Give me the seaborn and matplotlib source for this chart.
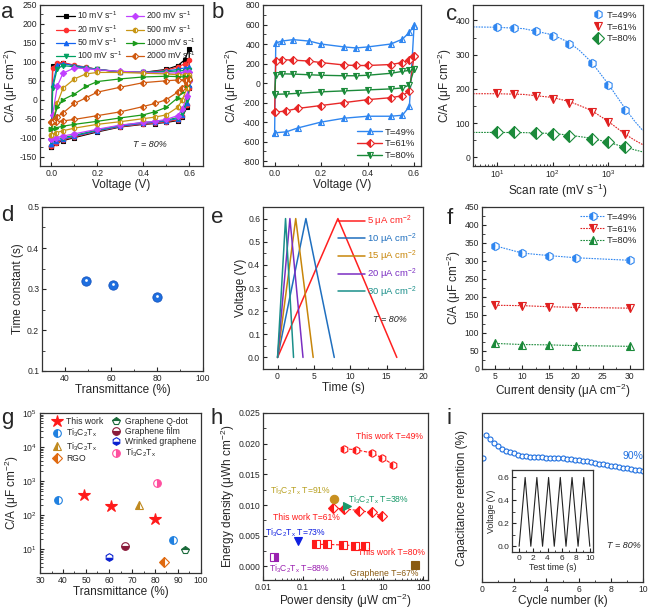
import matplotlib
matplotlib.use("Agg")
import matplotlib.pyplot as plt
import numpy as np
import pandas as pd
import seaborn as sns
from matplotlib.ticker import AutoMinorLocator, LogLocator, NullFormatter

# ---------------- data ----------------
# (a) CV at T=80%, different scan rates: forward then reverse branch
cv_v = [0.0, 0.005, 0.025, 0.05, 0.1, 0.15, 0.2, 0.3, 0.4, 0.5, 0.55, 0.58, 0.6,
        0.6, 0.59, 0.57, 0.55, 0.5, 0.45, 0.4, 0.3, 0.2, 0.1, 0.05, 0.02, 0.0]
scan_labels = ["10", "20", "50", "100", "200", "500", "1000", "2000"]
cv_10 = [-125, 90, 95, 97, 90, 85, 80, 73, 72, 80, 90, 105, 135,
         30, -20, -45, -55, -60, -63, -65, -72, -85, -100, -108, -115, -125]
cv_20 = [-122, 85, 96, 98, 91, 86, 80, 73, 72, 78, 86, 95, 105,
         30, -15, -42, -53, -58, -62, -64, -71, -83, -98, -106, -113, -122]
cv_50 = [-118, 40, 92, 95, 90, 85, 80, 73, 72, 76, 80, 84, 86,
         40, -10, -40, -50, -56, -60, -62, -70, -82, -96, -104, -110, -118]
cv_100 = [-110, 30, 82, 90, 87, 83, 80, 74, 72, 74, 76, 77, 78,
          45, 0, -35, -47, -54, -58, -60, -68, -80, -94, -100, -105, -110]
cv_200 = [-105, -40, 35, 70, 84, 82, 79, 75, 72, 70, 71, 72, 72,
          50, 10, -25, -42, -52, -57, -60, -67, -78, -90, -96, -100, -105]
cv_500 = [-92, -60, -10, 30, 55, 68, 72, 72, 70, 68, 66, 65, 65,
          60, 30, 0, -20, -40, -46, -50, -58, -65, -75, -82, -87, -92]
cv_1000 = [-78, -60, -20, 0, 15, 35, 48, 55, 60, 62, 61, 60, 60,
           58, 40, 20, 5, -20, -32, -40, -48, -57, -65, -70, -74, -78]
cv_2000 = [-60, -55, -45, -35, -10, 5, 20, 33, 45, 50, 52, 53, 53,
           55, 45, 30, 20, 0, -10, -18, -32, -42, -52, -56, -58, -60]

# (b) CV at 10 mV/s for three transmittances
cvb_v = [0.0, 0.005, 0.03, 0.08, 0.15, 0.2, 0.3, 0.35, 0.4, 0.5, 0.55, 0.58, 0.6,
         0.6, 0.58, 0.55, 0.5, 0.4, 0.3, 0.2, 0.1, 0.05, 0.0]
cvb_49 = [-510, 410, 430, 445, 430, 400, 370, 360, 370, 400, 450, 520, 590,
          580, -240, -330, -340, -340, -360, -400, -460, -500, -510]
cvb_61 = [-300, 230, 240, 235, 225, 210, 185, 180, 180, 190, 210, 235, 280,
          280, -80, -130, -150, -170, -200, -230, -260, -285, -300]
cvb_80 = [-120, 85, 95, 92, 85, 80, 75, 75, 80, 100, 120, 130, 140,
          140, -20, -50, -60, -70, -80, -90, -105, -112, -115]

# (c) C/A vs scan rate + fitted curves
scan_rate = [10, 20, 50, 100, 200, 500, 1000, 2000]
ca_49 = [381, 379, 368, 354, 331, 276, 212, 139]
ca_61 = [187, 185, 180, 172, 158, 134, 104, 67]
ca_80 = [73, 73, 72, 69, 63, 55, 44, 31]
fit_x = [3.7, 10, 30, 100, 200, 300, 500, 1000, 2000, 3000, 4200]
fit_49 = [381, 380, 376, 358, 335, 313, 278, 214, 143, 105, 78]
fit_61 = [186, 186, 184, 175, 163, 152, 137, 105, 68, 50, 37]
fit_80 = [73, 73, 72.5, 70, 65, 61, 56, 44, 30, 22, 16]

# (d) time constant
trans_d = [49, 61, 80]
tau_d = [0.32, 0.31, 0.28]

# (e) GCD curves at T=80%
gcd_labels = ["5", "10", "15", "20", "30"]
gcd_t = [[0, 8.3, 16.4], [0, 3.9, 7.8], [0, 2.5, 4.9], [0, 1.7, 3.5], [0, 1.1, 2.2]]
gcd_v = [0, 0.6, 0]

# (f) C/A vs current density
cur_dens = [5, 10, 15, 20, 30]
cf_49 = [342, 322, 315, 309, 302]
cf_61 = [177, 176, 173, 171, 169]
cf_80 = [71, 68, 67, 65, 63]

# (g) comparison: transmittance vs C/A
g_trans = [[49, 61, 80], [38, 88], [73], [84], [93], [67], [60], [81]]
g_ca = [[390, 192, 77], [285, 19], [205], [4.2], [9.3], [12.5], [5.8], [880]]

# (h) Ragone plot
h_p49 = [1.05, 2.1, 5.1, 9.3, 17.5]
h_e49 = [0.0192, 0.0190, 0.0185, 0.0177, 0.0166]
h_p61 = [0.55, 1.05, 2.5, 5.1, 9.3]
h_e61 = [0.0095, 0.0094, 0.0091, 0.0088, 0.0082]
h_p80 = [0.21, 0.40, 0.99, 1.95, 3.5]
h_e80 = [0.0036, 0.0036, 0.0035, 0.0034, 0.0033]
h_ref_p = [0.59, 1.27, 0.074, 0.019, 62]
h_ref_e = [0.0110, 0.0099, 0.0041, 0.0015, 0.0003]

# (i) cycling stability
cycles = [0.05, 0.25, 0.5, 0.75, 1.0, 1.25, 1.5, 1.75, 2.0, 2.25, 2.5, 2.75, 3.0, 3.25,
          3.5, 3.75, 4.0, 4.25, 4.5, 4.75, 5.0, 5.25, 5.5, 5.75, 6.0, 6.25, 6.5, 6.75,
          7.0, 7.25, 7.5, 7.75, 8.0, 8.25, 8.5, 8.75, 9.0, 9.25, 9.5, 9.75, 10.0]
retention = [100, 117.5, 114.5, 111.5, 109, 107, 105.5, 104.5, 103.5, 102.5, 102, 101.5,
             101, 101, 100.8, 100.8, 100.5, 100.5, 100.3, 100.2, 100, 99.6, 99.2, 98.8,
             98.4, 98, 97.6, 97.2, 96.6, 96, 95.5, 95, 94.5, 94, 93.5, 93, 92.5, 92,
             91.5, 91, 90.5]
inset_t = [0, 0.85, 1.65, 2.5, 3.3, 4.15, 4.95, 5.8, 6.6, 7.45, 8.3, 9.1, 9.95]
inset_v = [0, 0.6, 0, 0.6, 0, 0.6, 0, 0.6, 0, 0.6, 0, 0.6, 0]

# ---------------- style ----------------
sns.set_style("ticks")
plt.rcParams["font.family"] = ["Liberation Sans", "DejaVu Sans"]
plt.rcParams["mathtext.fontset"] = "custom"
plt.rcParams["mathtext.rm"] = "Liberation Sans"
plt.rcParams["mathtext.it"] = "Liberation Sans:italic"
plt.rcParams["mathtext.bf"] = "Liberation Sans:bold"
plt.rcParams["axes.linewidth"] = 0.9
plt.rcParams["axes.edgecolor"] = "#333333"
plt.rcParams["axes.unicode_minus"] = False

TICK = 6.2
LAB = 8.5
CA = "C/A (μF cm$^{-2}$)"
W, H = 653, 609

fig = plt.figure(figsize=(W / 100, H / 100), dpi=100)


def box(l, r, t, b):
    return fig.add_axes([l / W, 1 - b / H, (r - l) / W, (b - t) / H])


def style(ax, minor_x=True, minor_y=True):
    ax.tick_params(direction="in", labelsize=TICK, length=3, width=0.8, pad=2)
    ax.tick_params(which="minor", direction="in", length=1.8, width=0.6)
    if minor_x:
        ax.xaxis.set_minor_locator(AutoMinorLocator(2))
    if minor_y:
        ax.yaxis.set_minor_locator(AutoMinorLocator(2))


def line(ax, x, y, color, **kw):
    df = pd.DataFrame({"x": x, "y": y})
    kw.setdefault("linewidth", 1.0)
    kw.setdefault("markeredgecolor", color)
    kw.setdefault("markeredgewidth", 0.8)
    sns.lineplot(data=df, x="x", y="y", ax=ax, color=color, sort=False,
                 estimator=None, **kw)
    ax.set_xlabel("")
    ax.set_ylabel("")


def letter(x, y, s):
    fig.text(x / W, 1 - y / H, s, fontsize=16, va="top", ha="left")


# ---------------- (a) ----------------
ax = box(40, 203, 5, 166)
a_cols = ["#000000", "#ff3030", "#1464f0", "#00a060", "#c040ff", "#c89614", "#1a9a1a", "#d05a10"]
a_mk = ["s", "o", "^", "v", "D", "o", ">", "D"]
a_fill = ["full", "full", "full", "full", "full", "left", "full", "left"]
for lab, ys, c, m, f in zip(scan_labels, [cv_10, cv_20, cv_50, cv_100, cv_200, cv_500, cv_1000, cv_2000],
                           a_cols, a_mk, a_fill):
    line(ax, cv_v, ys, c, marker=m, markersize=3.2, fillstyle=f, markerfacecoloralt="white",
         linewidth=0.9, label=f"{lab} mV s$^{{-1}}$")
ax.set_xlim(-0.05, 0.66)
ax.set_ylim(-175, 250)
ax.set_yticks(np.arange(-150, 251, 50))
ax.set_xticks([0, 0.2, 0.4, 0.6])
ax.set_xticklabels(["0.0", "0.2", "0.4", "0.6"])
style(ax)
ax.set_xlabel("Voltage (V)", fontsize=LAB, labelpad=1)
ax.set_ylabel(CA, fontsize=LAB, labelpad=0)
ax.legend(ncol=2, fontsize=6.2, frameon=False, loc="upper center", bbox_to_anchor=(0.53, 1.02),
          handlelength=2.1, columnspacing=0.4, labelspacing=0.2, handletextpad=0.3)
ax.text(0.5, -125, "T = 80%", style="italic", fontsize=6.5, ha="right")
letter(1, 2, "a")

# ---------------- (b) ----------------
ax = box(263, 421, 5, 166)
for lab, ys, c, m in zip(["T=49%", "T=61%", "T=80%"], [cvb_49, cvb_61, cvb_80],
                         ["#2f86f0", "#e82828", "#1b8a3a"], ["^", "D", "v"]):
    line(ax, cvb_v, ys, c, marker=m, markersize=4, fillstyle="left", markerfacecoloralt="white",
         linewidth=1.0, label=lab)
ax.set_xlim(-0.05, 0.63)
ax.set_ylim(-850, 800)
ax.set_yticks(np.arange(-800, 801, 200))
ax.set_xticks([0, 0.2, 0.4, 0.6])
ax.set_xticklabels(["0.0", "0.2", "0.4", "0.6"])
style(ax)
ax.set_xlabel("Voltage (V)", fontsize=LAB, labelpad=1)
ax.set_ylabel(CA, fontsize=LAB, labelpad=1)
ax.legend(fontsize=6.8, frameon=False, loc="lower right", handlelength=2.6,
          labelspacing=0.3, handletextpad=0.3, borderaxespad=0.2)
letter(212, 2, "b")

# ---------------- (c) ----------------
ax = box(473, 643, 5, 166)
for lab, ys, fy, c, m in zip(["T=49%", "T=61%", "T=80%"], [ca_49, ca_61, ca_80],
                             [fit_49, fit_61, fit_80], ["#2f86f0", "#e02020", "#1b8a3a"],
                             ["h", "v", "D"]):
    line(ax, fit_x, fy, c, linestyle=(0, (1.5, 1)), linewidth=0.8)
    line(ax, scan_rate, ys, c, marker=m, markersize=6, fillstyle="left",
         markerfacecoloralt="white", linestyle="none", label=lab)
ax.set_xscale("log")
ax.set_xlim(3.7, 4200)
ax.set_ylim(-25, 445)
ax.set_yticks([0, 100, 200, 300, 400])
style(ax, minor_x=False)
ax.xaxis.set_minor_locator(LogLocator(base=10, subs=np.arange(2, 10) * 1.0))
ax.xaxis.set_minor_formatter(NullFormatter())
ax.set_xlabel("Scan rate (mV s$^{-1}$)", fontsize=LAB, labelpad=1)
ax.set_ylabel(CA, fontsize=LAB, labelpad=1)
ax.legend(fontsize=6.8, frameon=False, loc="upper right", labelspacing=0.3,
          handlelength=1.2, handletextpad=0.3, borderaxespad=0.2)
letter(446, 4, "c")

# ---------------- (d) ----------------
ax = box(42, 203, 207, 371)
sns.scatterplot(x=trans_d, y=tau_d, ax=ax, color="#1e6fe0", s=45, edgecolor="#1555c0",
                linewidth=0.6, zorder=3)
sns.scatterplot(x=trans_d, y=[v + 0.002 for v in tau_d], ax=ax, color="white", s=4,
                linewidth=0, zorder=4)
ax.set_xlim(30, 100)
ax.set_ylim(0.1, 0.5)
ax.set_xticks([40, 60, 80, 100])
ax.set_yticks([0.1, 0.2, 0.3, 0.4, 0.5])
style(ax)
ax.set_xlabel("Transmittance (%)", fontsize=LAB, labelpad=1)
ax.set_ylabel("Time constant (s)", fontsize=LAB, labelpad=2)
letter(1, 205, "d")

# ---------------- (e) ----------------
ax = box(263, 423, 207, 369)
e_cols = ["#ff2020", "#1f6fbf", "#c8860a", "#7a2ec2", "#1a8f8a"]
for lab, ts, c in zip(gcd_labels, gcd_t, e_cols):
    line(ax, ts, gcd_v, c, linewidth=1.1, label=f"{lab} μA cm$^{{-2}}$")
ax.set_xlim(-2, 20)
ax.set_ylim(-0.05, 0.65)
ax.set_xticks([0, 5, 10, 15, 20])
ax.set_yticks(np.arange(0, 0.61, 0.1))
ax.set_yticklabels([f"{v:.1f}" for v in np.arange(0, 0.61, 0.1)])
style(ax)
ax.set_xlabel("Time (s)", fontsize=LAB, labelpad=1)
ax.set_ylabel("Voltage (V)", fontsize=LAB, labelpad=1)
leg = ax.legend(fontsize=6.8, frameon=False, loc="upper right", handlelength=2.8,
                labelspacing=0.25, handletextpad=0.2, borderaxespad=0.3)
for t, c in zip(leg.get_texts(), e_cols):
    t.set_color(c)
ax.text(17.8, 0.155, "T = 80%", style="italic", fontsize=6.5, ha="right")
letter(211, 207, "e")

# ---------------- (f) ----------------
ax = box(482, 643, 207, 369)
for lab, ys, c, m in zip(["T=49%", "T=61%", "T=80%"], [cf_49, cf_61, cf_80],
                         ["#2f86f0", "#e02020", "#1b8a3a"], ["h", "v", "^"]):
    line(ax, cur_dens, ys, c, marker=m, markersize=6, fillstyle="left",
         markerfacecoloralt="white", linestyle=(0, (1.5, 1)), linewidth=0.8, label=lab)
ax.set_xlim(2.5, 32.5)
ax.set_ylim(0, 450)
ax.set_xticks([5, 10, 15, 20, 25, 30])
ax.set_yticks(np.arange(0, 451, 50))
style(ax)
ax.set_xlabel("Current density (μA cm$^{-2}$)", fontsize=LAB, labelpad=1)
ax.set_ylabel(CA, fontsize=LAB, labelpad=1)
ax.legend(fontsize=6.8, frameon=False, loc="upper right", handlelength=2.6,
          labelspacing=0.3, handletextpad=0.2, borderaxespad=0.2)
letter(447, 208, "f")

# ---------------- (g) ----------------
ax = box(40, 201, 413, 573)
g_cols = ["#ff1a1a", "#2080e0", "#c08a20", "#e06a10", "#1a6a3a", "#8a1a3a", "#0a20d0", "#ff4f9f"]
g_mk = ["*", "o", "^", "D", "p", "o", "h", "o"]
g_fill = ["full", "left", "left", "left", "top", "bottom", "bottom", "right"]
g_names = ["This work", "Ti$_3$C$_2$T$_\\mathrm{x}$", "Ti$_3$C$_2$T$_\\mathrm{x}$", "RGO",
           "Graphene Q-dot", "Graphene film", "Wrinked graphene", "Ti$_3$C$_2$T$_\\mathrm{x}$"]
for name, xs, ys, c, m, f in zip(g_names, g_trans, g_ca, g_cols, g_mk, g_fill):
    ms = 9 if m == "*" else 5.5
    line(ax, xs, ys, c, marker=m, markersize=ms, fillstyle=f, markerfacecoloralt="white",
         linestyle="none", label=name)
ax.set_yscale("log")
ax.set_xlim(30, 100)
ax.set_ylim(2, 1e5)
ax.set_xticks(np.arange(30, 101, 10))
style(ax, minor_y=False)
ax.yaxis.set_minor_locator(LogLocator(base=10, subs=np.arange(2, 10) * 1.0))
ax.yaxis.set_minor_formatter(NullFormatter())
ax.set_xlabel("Transmittance (%)", fontsize=LAB, labelpad=1)
ax.set_ylabel(CA, fontsize=LAB, labelpad=1)
ax.legend(ncol=2, fontsize=6.2, frameon=False, loc="upper left", bbox_to_anchor=(0.04, 1.01),
          handlelength=1.2, columnspacing=0.8, labelspacing=0.12, handletextpad=0.5,
          borderaxespad=0.2)
letter(1, 408, "g")

# ---------------- (h) ----------------
ax = box(263, 428, 413, 580)
for xs, ys, m in zip([h_p49, h_p61, h_p80], [h_e49, h_e61, h_e80], ["h", "D", "s"]):
    line(ax, xs, ys, "#ff1a1a", marker=m, markersize=5.5, fillstyle="left",
         markerfacecoloralt="white", linestyle=(0, (3, 1.5)), linewidth=0.8)
h_cols = ["#c89020", "#1a9a6a", "#1020e0", "#9a20b0", "#8a5a10"]
h_mk = ["o", ">", "v", "s", "s"]
h_fill = ["full", "full", "full", "right", "full"]
for px, ey, c, m, f in zip(h_ref_p, h_ref_e, h_cols, h_mk, h_fill):
    line(ax, [px], [ey], c, marker=m, markersize=6, fillstyle=f, markerfacecoloralt="white",
         linestyle="none")
ax.set_xscale("log")
ax.set_xlim(0.01, 130)
ax.set_ylim(-0.0022, 0.025)
ax.set_yticks(np.arange(0, 0.0251, 0.005))
ax.set_yticklabels([f"{v:.3f}" for v in np.arange(0, 0.0251, 0.005)])
ax.set_xticks([0.01, 0.1, 1, 10, 100])
ax.set_xticklabels(["0.01", "0.1", "1", "10", "100"])
style(ax, minor_x=False)
ax.xaxis.set_minor_locator(LogLocator(base=10, subs=np.arange(2, 10) * 1.0))
ax.xaxis.set_minor_formatter(NullFormatter())
ax.set_xlabel("Power density (μW cm$^{-2}$)", fontsize=LAB, labelpad=0)
ax.set_ylabel("Energy density (μWh cm$^{-2}$)", fontsize=LAB, labelpad=1)
ti = "Ti$_3$C$_2$T$_\\mathrm{x}$"
fs = 6.2
kw = dict(fontsize=fs, va="center", zorder=5)
ax.text(14, 0.0212, "This work T=49%", color="#ff1a1a", ha="center", **kw)
ax.text(0.12, 0.0080, "This work T=61%", color="#ff1a1a", ha="center", **kw)
ax.text(16, 0.0022, "This work T=80%", color="#ff1a1a", ha="center", **kw)
ax.text(0.087, 0.0124, ti + " T=91%", color="#b8a020", ha="center", **kw)
ax.text(1.35, 0.0108, ti + " T=38%", color="#1a9a6a", ha="left", **kw)
ax.text(0.011, 0.0055, ti + " T=73%", color="#1020e0", ha="left", **kw)
ax.text(0.014, -0.0003, ti + " T=88%", color="#9a20b0", ha="left", **kw)
ax.text(75, -0.0012, "Graphene T=67%", color="#8a5a10", ha="right", **kw)
letter(211, 408, "h")

# ---------------- (i) ----------------
ax = box(482, 643, 413, 582)
line(ax, cycles, retention, "#1e6fe0", marker="o", markersize=3.6, markerfacecolor="white",
     linestyle="none")
ax.set_xlim(0, 10)
ax.set_ylim(7.5, 133.75)
ax.set_xticks([0, 2, 4, 6, 8, 10])
ax.set_yticks([])
style(ax, minor_y=False)
ax.set_xlabel("Cycle number (k)", fontsize=LAB, labelpad=1)
ax.set_ylabel("Capacitance retention (%)", fontsize=LAB, labelpad=10)
ax.text(9.35, 99.5, "90%", color="#1e6fe0", fontsize=7.5, ha="center")
ax.text(9.85, 33, "T = 80%", style="italic", fontsize=6.5, ha="right")
letter(447, 408, "i")

ins = box(512, 593, 470, 552)
line(ins, inset_t, inset_v, "#222222", linewidth=0.8)
ins.set_xlim(-1, 10.4)
ins.set_ylim(-0.05, 0.665)
ins.set_xticks([0, 2, 4, 6, 8, 10])
ins.set_yticks([0, 0.2, 0.4, 0.6])
ins.set_yticklabels(["0.0", "0.2", "0.4", "0.6"])
style(ins)
ins.tick_params(labelsize=6)
ins.set_xlabel("Test time (s)", fontsize=6.3, labelpad=1)
ins.set_ylabel("Voltage (V)", fontsize=6.3, labelpad=1)

fig.savefig("out.png", dpi=100)
